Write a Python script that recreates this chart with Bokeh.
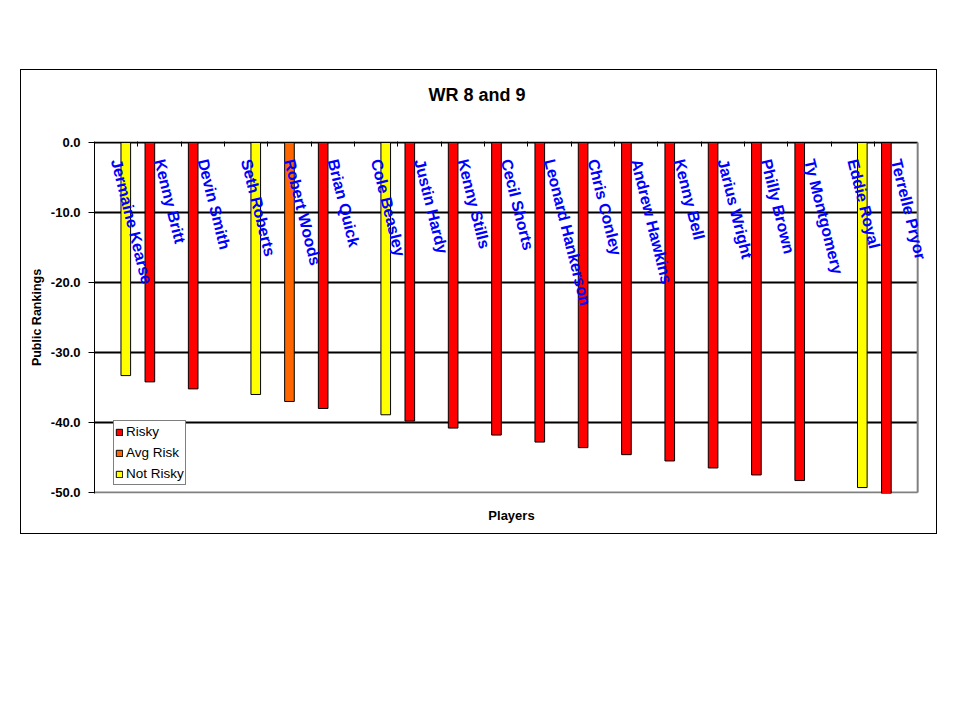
from bokeh.plotting import figure
from bokeh.models import (Range1d, LinearAxis, FixedTicker, NumeralTickFormatter,
                          ColumnDataSource, Legend, LegendItem, LabelSet)
from bokeh.transform import dodge
from bokeh.core.properties import value
from bokeh.embed import file_html
from bokeh.resources import INLINE

players = ["Jermaine Kearse", "Kenny Britt", "Devin Smith", "Seth Roberts", "Robert Woods",
           "Brian Quick", "Cole Beasley", "Justin Hardy", "Kenny Stills", "Cecil Shorts",
           "Leonard Hankerson", "Chris Conley", "Andrew Hawkins", "Kenny Bell", "Jarius Wright",
           "Philly Brown", "Ty Montgomery", "Eddie Royal", "Terrelle Pryor"]
rankings = [-33.3, -34.2, -35.2, -36.0, -37.0,
            -38.0, -38.9, -39.8, -40.8, -41.8,
            -42.8, -43.6, -44.6, -45.5, -46.5,
            -47.5, -48.3, -49.3, -50.3]
risk = ["Not Risky", "Risky", "Risky", "Not Risky", "Avg Risk",
        "Risky", "Not Risky", "Risky", "Risky", "Risky",
        "Risky", "Risky", "Risky", "Risky", "Risky",
        "Risky", "Risky", "Not Risky", "Risky"]

series = ["Risky", "Avg Risk", "Not Risky"]
series_colors = ["#FF0000", "#FF6600", "#FFFF00"]
y_ticks = [-50, -40, -30, -20, -10, 0]
y_min, y_max = -50, 0

FONT = "Liberation Sans"
BAR_W = 1 / 4.5
offsets = [-BAR_W, 0.0, BAR_W]
n = len(players)
centers = [i + 0.5 for i in range(n)]  # category slot centres on the x scale

# x range reaches a little past the last category so the last slanted label is not cut
p = figure(width=917, height=465,
           x_range=Range1d(0, n + 0.25), y_range=Range1d(y_min - 0.15, y_max + 0.15),
           output_backend="svg", toolbar_location=None,
           x_axis_location=None, y_axis_location="left",
           min_border_left=73, min_border_right=10, min_border_top=71, min_border_bottom=42,
           margin=(69, 0, 0, 20), styles={"border": "1px solid black"})
p.background_fill_color = "white"
p.border_fill_color = "white"
p.outline_line_color = None

p.title.text = "WR 8 and 9"
p.title.align = "left"
p.title.offset = 334
p.title.standoff = 10
p.title.text_font = FONT
p.title.text_font_style = "bold"
p.title.text_font_size = "18px"
p.title.text_color = "black"
try:
    p.title.padding = {"left": 0, "right": 0, "top": 0, "bottom": 32}
except Exception:
    pass

ya = p.yaxis[0]
ya.ticker = FixedTicker(ticks=y_ticks)
ya.formatter = NumeralTickFormatter(format="0.0")
ya.major_label_text_font = FONT
ya.major_label_text_font_style = "bold"
ya.major_label_text_font_size = "13px"
ya.major_label_text_color = "black"
ya.major_tick_out = 6
ya.major_tick_in = 0
ya.minor_tick_out = 0
ya.minor_tick_in = 0
ya.major_label_standoff = 8
ya.axis_line_color = "black"
ya.axis_line_width = 1
ya.major_tick_line_color = "black"
ya.axis_label = "Public Rankings"
ya.axis_label_text_font = FONT
ya.axis_label_text_font_style = "bold"
ya.axis_label_text_font_size = "12.5px"
ya.axis_label_text_color = "black"
ya.axis_label_standoff = 4

p.grid.visible = False

# category boundary tick marks on the x axis at y = 0 (minor ticks only, no labels)
top_axis = LinearAxis(ticker=FixedTicker(ticks=[], minor_ticks=list(range(1, n))),
                      major_tick_in=0, major_tick_out=0, major_tick_line_color=None,
                      minor_tick_in=5, minor_tick_out=0, minor_tick_line_color="black",
                      axis_line_color=None, major_label_standoff=0)
p.add_layout(top_axis, "above")
bottom_axis = LinearAxis(ticker=FixedTicker(ticks=[]),
                         major_tick_in=0, major_tick_out=0, minor_tick_in=0, minor_tick_out=0,
                         axis_line_color=None, major_label_standoff=0,
                         axis_label="Players", axis_label_text_font=FONT,
                         axis_label_text_font_style="bold", axis_label_text_font_size="13px",
                         axis_label_text_color="black", axis_label_standoff=14)
p.add_layout(bottom_axis, "below")

# horizontal grid lines and plot-area edges
grid_vals = [t for t in y_ticks if y_min < t < y_max]
p.segment(x0=0, x1=n, y0=grid_vals, y1=grid_vals, line_color="black", line_width=2)
p.segment(x0=0, x1=n, y0=y_max, y1=y_max, line_color="black", line_width=2)
p.segment(x0=0, x1=n, y0=y_min, y1=y_min, line_color="#808080", line_width=2)
p.segment(x0=n, x1=n, y0=y_min, y1=y_max, line_color="#808080", line_width=2)

items = []
for name, color, off in zip(series, series_colors, offsets):
    idx = [i for i, r in enumerate(risk) if r == name]
    src = ColumnDataSource(dict(pos=[centers[i] for i in idx],
                                player=[players[i] for i in idx],
                                ranking=[rankings[i] for i in idx]))
    r = p.vbar(x=dodge("pos", off), top=0, bottom="ranking",
               width=BAR_W, fill_color=color, line_color="black", line_width=1, source=src)
    items.append(LegendItem(label=name, renderers=[r]))

lab_src = ColumnDataSource(dict(pos=centers, player=players, ly=[-2.4] * n))
labels = LabelSet(x="pos", y="ly", text="player", source=lab_src, angle=-76, angle_units="deg",
                  text_font=value(FONT), text_font_style="bold", text_font_size="16px",
                  text_color="#0000FF", text_align="left", text_baseline="middle")
p.add_layout(labels)

legend = Legend(items=items, location=(19, 8), margin=0,
                border_line_color="black", border_line_width=1, background_fill_color="white",
                background_fill_alpha=1.0, padding=1, spacing=2, label_height=19,
                glyph_width=8, glyph_height=8, label_standoff=3,
                label_text_font=FONT, label_text_font_size="13.5px", label_text_color="black")
p.add_layout(legend)

open("out.html", "w").write(file_html(p, INLINE))
